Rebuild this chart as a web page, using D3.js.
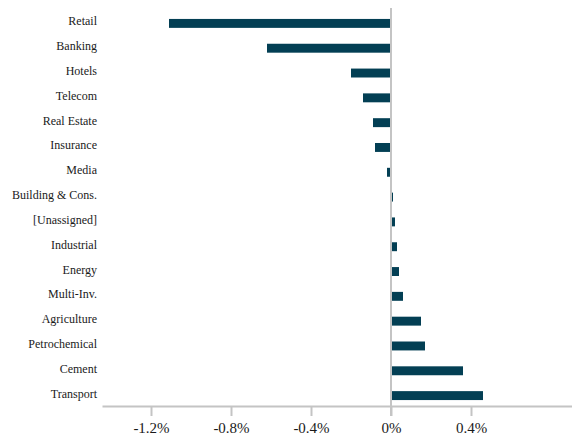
<!DOCTYPE html>
<html>
<head>
<meta charset="utf-8">
<script src="https://cdn.jsdelivr.net/npm/d3@7"></script>
<style>
  body { margin: 0; background: #fff; }
  text { font-family: "Liberation Serif", "Times New Roman", serif; fill: #1a1a1a; }
</style>
</head>
<body>
<div id="chart"></div>
<script>
var sectors = ["Retail", "Banking", "Hotels", "Telecom", "Real Estate", "Insurance", "Media",
  "Building & Cons.", "[Unassigned]", "Industrial", "Energy", "Multi-Inv.", "Agriculture",
  "Petrochemical", "Cement", "Transport"];
var returns = [-1.11, -0.62, -0.20, -0.14, -0.09, -0.08, -0.02,
  0.01, 0.02, 0.03, 0.04, 0.06, 0.15, 0.17, 0.36, 0.46];
var tick_values = [-1.2, -0.8, -0.4, 0, 0.4];

var w = 572, h = 435;
var bar_color = "#033f54";
var grid_color = "#c4c4c4";

// 200px per 1%, zero sits at x=391
var x_ax = d3.scaleLinear()
  .domain([-1.445, 0.905])
  .range([102, 572]);
var y_ax = d3.scaleBand()
  .domain(sectors)
  .range([11, 408])
  .paddingInner(0.64)
  .paddingOuter(0.32);

function pct(d) {
  // plain hyphen for the minus sign, like the original
  return (d === 0 ? "0" : d.toFixed(1)) + "%";
}

var svg = d3.select("#chart").append("svg")
  .attr("width", w)
  .attr("height", h);

var axis_y = 406;

// bars
svg.selectAll(".bar")
  .data(sectors)
  .enter()
    .append("rect")
    .attr("class", "bar")
    .attr("x", function(d, i) { return returns[i] < 0 ? x_ax(returns[i]) : x_ax(0) + 1; })
    .attr("width", function(d, i) { return Math.abs(x_ax(returns[i]) - x_ax(0)) - (returns[i] < 0 ? 0 : 1); })
    .attr("y", function(d) { return y_ax(d); })
    .attr("height", y_ax.bandwidth())
    .attr("fill", bar_color);

// zero line
svg.append("line")
  .attr("x1", x_ax(0)).attr("x2", x_ax(0))
  .attr("y1", 8).attr("y2", axis_y + 10)
  .attr("stroke", grid_color)
  .attr("stroke-width", 2);

// bottom axis
var xAxis = svg.append("g")
  .attr("transform", "translate(0," + axis_y + ")")
  .call(d3.axisBottom(x_ax)
    .tickValues(tick_values)
    .tickSize(10)
    .tickSizeOuter(0)
    .tickPadding(6)
    .tickFormat(pct));
xAxis.attr("font-family", null);
xAxis.select(".domain").attr("stroke", grid_color).attr("stroke-width", 2);
xAxis.selectAll(".tick line").attr("stroke", grid_color).attr("stroke-width", 2);
xAxis.selectAll(".tick text")
  .attr("font-size", 15);

// category labels
svg.selectAll(".lab")
  .data(sectors)
  .enter()
    .append("text")
    .attr("class", "lab")
    .attr("x", 97)
    .attr("y", function(d) { return y_ax(d) + y_ax.bandwidth() / 2 + 2; })
    .attr("text-anchor", "end")
    .attr("font-size", 12)
    .text(function(d) { return d; });
</script>
</body>
</html>
